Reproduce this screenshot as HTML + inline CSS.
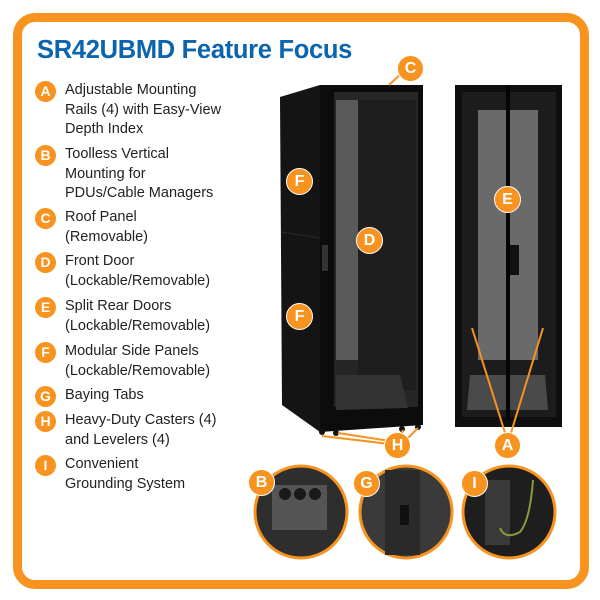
<!DOCTYPE html>
<html><head><style>
body{margin:0;width:600px;height:600px;background:#fff;position:relative;overflow:hidden;font-family:"Liberation Sans",sans-serif}
.frame{position:absolute;left:13px;top:13px;width:558px;height:558px;border:9px solid #f7931e;border-radius:22px}
h1{position:absolute;left:37px;top:36px;margin:0;font-size:25.5px;font-weight:bold;color:#0a64b0;letter-spacing:-0.3px}
.it{position:absolute;left:65px;font-size:14.5px;line-height:19.5px;color:#222}
.b{position:absolute;width:21px;height:21px;border-radius:50%;background:#f7931e;color:#fff;font-weight:bold;font-size:14px;line-height:21px;text-align:center}
.bl{width:25px;height:25px;line-height:25px;font-size:16px;border:1px solid #fff}
</style></head><body>
<div class="frame"></div>
<h1>SR42UBMD Feature Focus</h1>
<div class="b" style="left:35px;top:81px">A</div><div class="it" style="top:81px">Adjustable Mounting<br>Rails (4) with Easy-View<br>Depth Index</div>
<div class="b" style="left:35px;top:145px">B</div><div class="it" style="top:145px">Toolless Vertical<br>Mounting for<br>PDUs/Cable Managers</div>
<div class="b" style="left:35px;top:208px">C</div><div class="it" style="top:208px">Roof Panel<br>(Removable)</div>
<div class="b" style="left:35px;top:252px">D</div><div class="it" style="top:252px">Front Door<br>(Lockable/Removable)</div>
<div class="b" style="left:35px;top:297px">E</div><div class="it" style="top:297px">Split Rear Doors<br>(Lockable/Removable)</div>
<div class="b" style="left:35px;top:342px">F</div><div class="it" style="top:342px">Modular Side Panels<br>(Lockable/Removable)</div>
<div class="b" style="left:35px;top:386px">G</div><div class="it" style="top:386px">Baying Tabs</div>
<div class="b" style="left:35px;top:411px">H</div><div class="it" style="top:411px">Heavy-Duty Casters (4)<br>and Levelers (4)</div>
<div class="b" style="left:35px;top:455px">I</div><div class="it" style="top:455px">Convenient<br>Grounding System</div>
<svg width="600" height="600" style="position:absolute;left:0;top:0">
<!-- front cabinet -->
<polygon points="280,97 320,85 320,432 282,405" fill="#141414"/>
<line x1="281" y1="232" x2="320" y2="238" stroke="#2a2a2a"/>
<polygon points="320,85 423,85 423,425 320,432" fill="#0c0c0c"/>
<rect x="334" y="92" width="84" height="315" fill="#262626"/>
<rect x="336" y="100" width="22" height="260" fill="#5a5a5a"/>
<rect x="358" y="100" width="58" height="290" fill="#1e1e1e"/>
<polygon points="336,375 400,375 408,408 336,410" fill="#333"/>
<rect x="322" y="245" width="6" height="26" fill="#333"/>
<circle cx="322" cy="432" r="3" fill="#111"/><circle cx="336" cy="433" r="3" fill="#111"/><circle cx="402" cy="429" r="3" fill="#111"/><circle cx="418" cy="427" r="3" fill="#111"/>
<!-- rear cabinet -->
<rect x="455" y="85" width="107" height="342" fill="#0e0e0e"/>
<rect x="462" y="92" width="94" height="325" fill="#1c1c1c"/>
<rect x="478" y="110" width="60" height="250" fill="#6a6a6a"/>
<polygon points="470,375 545,375 548,410 467,410" fill="#4a4a4a"/>
<rect x="506" y="85" width="4" height="335" fill="#050505"/>
<rect x="510" y="245" width="9" height="30" fill="#111"/>
<!-- leader lines -->
<g stroke="#f7931e" stroke-width="2" fill="none">
<line x1="389" y1="85" x2="403" y2="72"/>
<line x1="472" y1="328" x2="506" y2="436"/><line x1="543" y1="328" x2="510" y2="436"/>
<line x1="322" y1="436" x2="390" y2="444"/><line x1="338" y1="433" x2="390" y2="441"/>
<line x1="403" y1="430" x2="400" y2="438"/><line x1="418" y1="428" x2="406" y2="440"/>
</g>
<!-- detail circles -->
<g stroke="#f7931e" stroke-width="3">
<circle cx="301" cy="512" r="46" fill="#2e2e2e"/>
<circle cx="406" cy="512" r="46" fill="#3a3a3a"/>
<circle cx="509" cy="512" r="46" fill="#1e1e1e"/>
</g>
<rect x="272" y="485" width="55" height="45" fill="#555"/>
<circle cx="285" cy="494" r="6" fill="#1a1a1a"/><circle cx="300" cy="494" r="6" fill="#1a1a1a"/><circle cx="315" cy="494" r="6" fill="#1a1a1a"/>
<rect x="385" y="470" width="35" height="85" fill="#2a2a2a"/>
<rect x="400" y="505" width="9" height="20" fill="#111"/>
<rect x="485" y="480" width="25" height="65" fill="#3a3a3a"/>
<path d="M533 480 Q530 520 520 532 Q505 540 500 528" stroke="#8a9a3a" stroke-width="2" fill="none"/>
</svg>
<div class="b bl" style="left:397px;top:55px">C</div>
<div class="b bl" style="left:286px;top:168px">F</div>
<div class="b bl" style="left:286px;top:303px">F</div>
<div class="b bl" style="left:356px;top:227px">D</div>
<div class="b bl" style="left:494px;top:186px">E</div>
<div class="b bl" style="left:384px;top:432px">H</div>
<div class="b bl" style="left:494px;top:432px">A</div>
<div class="b bl" style="left:248px;top:469px">B</div>
<div class="b bl" style="left:353px;top:470px">G</div>
<div class="b bl" style="left:461px;top:470px">I</div>
</body></html>
